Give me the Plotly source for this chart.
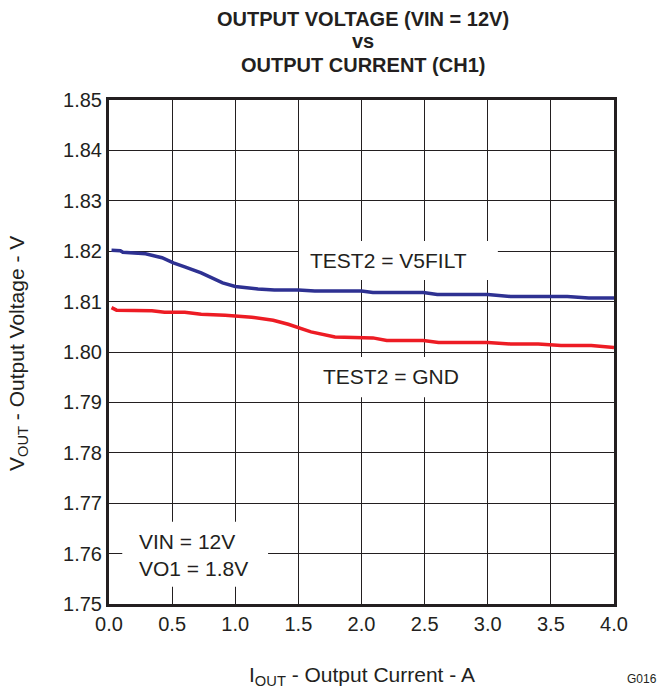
import plotly.graph_objects as go

# Output current (A) and output voltage (V) for the two TEST2 settings
current_v5filt = [0.02, 0.09, 0.11, 0.19, 0.29, 0.42, 0.51, 0.60, 0.73, 0.90, 1.00, 1.18,
                  1.31, 1.50, 1.63, 2.00, 2.09, 2.49, 2.60, 3.00, 3.18, 3.63, 3.80, 4.00]
vout_v5filt = [1.8202, 1.8201, 1.8198, 1.8197, 1.8195, 1.8187, 1.8177, 1.8169, 1.8157,
               1.8137, 1.8130, 1.8125, 1.8123, 1.8123, 1.8121, 1.8121, 1.8118, 1.8118,
               1.8114, 1.8114, 1.8110, 1.8110, 1.8107, 1.8107]

current_gnd = [0.02, 0.06, 0.34, 0.44, 0.60, 0.73, 0.92, 1.01, 1.13, 1.30, 1.42, 1.60,
               1.79, 2.09, 2.20, 2.49, 2.61, 3.00, 3.18, 3.40, 3.58, 3.82, 4.00]
vout_gnd = [1.8088, 1.8083, 1.8082, 1.8079, 1.8079, 1.8075, 1.8073, 1.8072, 1.8069,
            1.8063, 1.8055, 1.8040, 1.8030, 1.8028, 1.8023, 1.8023, 1.8019, 1.8019,
            1.8016, 1.8016, 1.8013, 1.8013, 1.8009]

x_ticks = [0.0, 0.5, 1.0, 1.5, 2.0, 2.5, 3.0, 3.5, 4.0]
y_ticks = [1.75, 1.76, 1.77, 1.78, 1.79, 1.80, 1.81, 1.82, 1.83, 1.84, 1.85]

title_lines = ["OUTPUT VOLTAGE (VIN = 12V)", "vs", "OUTPUT CURRENT (CH1)"]

INK = "#231f20"
FONT = "Liberation Sans, Arial, Helvetica, sans-serif"

W, H = 659, 693
ML, MR, MT, MB = 109, 45, 100, 89
PW, PH = W - ML - MR, H - MT - MB


def px_x(px):
    """Horizontal pixel position -> paper fraction of the plot area."""
    return (px - ML) / PW


def px_y(py):
    """Vertical pixel position (from top) -> paper fraction of the plot area."""
    return (H - MB - py) / PH


fig = go.Figure()
fig.add_trace(go.Scatter(x=current_v5filt, y=vout_v5filt, mode="lines",
                         line=dict(color="#2e3192", width=3.5), showlegend=False))
fig.add_trace(go.Scatter(x=current_gnd, y=vout_gnd, mode="lines",
                         line=dict(color="#ed1c24", width=3.5), showlegend=False))

# White label backgrounds that interrupt the grid
label_boxes = [
    (1.505, 3.08, 1.8143, 1.8220),
    (1.55, 2.94, 1.7910, 1.7990),
    (0.105, 1.26, 1.7534, 1.7663),
]
for x0, x1, y0, y1 in label_boxes:
    fig.add_shape(type="rect", x0=x0, x1=x1, y0=y0, y1=y1, xref="x", yref="y",
                  fillcolor="white", line=dict(width=0), layer="between")

label_font = dict(size=21, color=INK, family=FONT)
fig.add_annotation(x=2.21, y=1.8182, xref="x", yref="y", text="TEST2 = V5FILT",
                   showarrow=False, font=label_font)
fig.add_annotation(x=2.23, y=1.7952, xref="x", yref="y", text="TEST2 = GND",
                   showarrow=False, font=label_font)
fig.add_annotation(x=0.22, y=1.7598, xref="x", yref="y", xanchor="left",
                   text="VIN = 12V<br>VO1 = 1.8V", align="left", showarrow=False,
                   font=label_font)

# Three-line bold chart title
for text, cy in zip(title_lines, [19.0, 41.5, 65.0]):
    fig.add_annotation(x=px_x(362.5), y=px_y(cy), xref="paper", yref="paper",
                       xanchor="center", yanchor="middle", showarrow=False,
                       text=f"<b>{text}</b>",
                       font=dict(size=20, color=INK, family=FONT))

# Axis titles
fig.add_annotation(x=px_x(362), y=px_y(676), xref="paper", yref="paper",
                   xanchor="center", yanchor="middle", showarrow=False,
                   text="I<sub>OUT</sub> - Output Current - A",
                   font=dict(size=21, color=INK, family=FONT))
fig.add_annotation(x=px_x(18), y=px_y(354), xref="paper", yref="paper",
                   xanchor="center", yanchor="middle", showarrow=False, textangle=-90,
                   text="V<sub>OUT</sub> - Output Voltage - V",
                   font=dict(size=21, color=INK, family=FONT))

fig.add_annotation(x=px_x(642), y=px_y(678.5), xref="paper", yref="paper",
                   xanchor="center", yanchor="middle", showarrow=False, text="G016",
                   font=dict(size=12, color=INK, family=FONT))

fig.update_layout(
    width=W, height=H,
    margin=dict(l=ML, r=MR, t=MT, b=MB),
    paper_bgcolor="white", plot_bgcolor="white",
    font=dict(family=FONT, color=INK, size=20),
    xaxis=dict(
        range=[0, 4], tickvals=x_ticks, tickformat=".1f",
        showgrid=True, gridcolor=INK, gridwidth=1,
        showline=True, linecolor=INK, linewidth=3, mirror=True,
        ticks="", zeroline=False, tickfont=dict(size=20),
    ),
    yaxis=dict(
        range=[1.75, 1.85], tickvals=y_ticks, tickformat=".2f",
        showgrid=True, gridcolor=INK, gridwidth=1,
        showline=True, linecolor=INK, linewidth=3, mirror=True,
        ticks="", zeroline=False, tickfont=dict(size=20),
    ),
)

fig.write_html("out.html")
